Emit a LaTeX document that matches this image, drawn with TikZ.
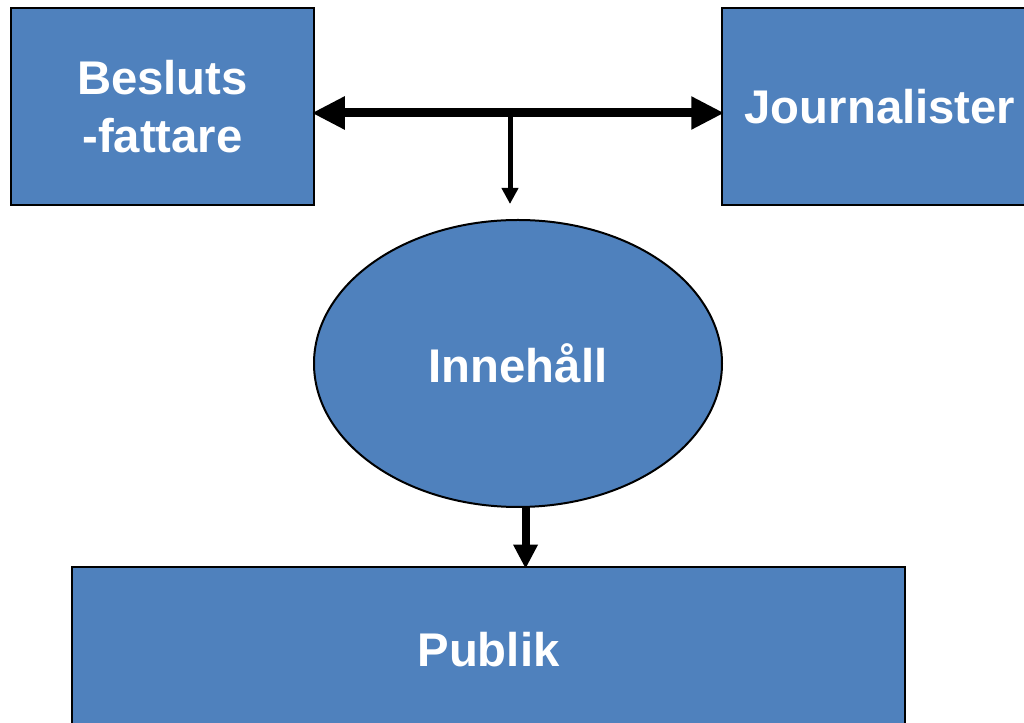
\documentclass[tikz,border=0pt]{standalone}
\usepackage{fontspec}
\setmainfont{Liberation Sans}
\usepackage{tikz}
\usetikzlibrary{shapes.geometric,arrows.meta,positioning}
\definecolor{boxblue}{HTML}{4F81BD}

\begin{document}
\begin{tikzpicture}[node distance = 2cm, on grid,
    box/.style = {draw, line width=0.05cm, fill=boxblue, text=white, inner sep=0pt,
      font=\fontsize{26.9}{32.8}\selectfont\bfseries, align=center},
    blob/.style = {box, ellipse, line width=0.04cm},
    wide/.style = {line width=0.18cm, shorten >= -0.07cm, shorten <= -0.07cm,
      {Triangle[length=0.66cm,width=0.62cm]}-{Triangle[length=0.66cm,width=0.62cm]}},
    tap/.style = {line width=0.1cm, -{Triangle[length=0.32cm,width=0.32cm]}},
    feed/.style = {line width=0.16cm, shorten >= -0.06cm, -{Triangle[length=0.48cm,width=0.46cm]}}]
   \path[use as bounding box, clip] (0,0) rectangle (20.48,14.46);
   \node[box, minimum width=6.06cm, minimum height=3.94cm] (box_b) at (3.25,12.33) {Besluts\\-fattare};
   \node[box, minimum width=6.32cm, minimum height=3.94cm] (box_j) [right = 14.35cm of box_b] {Journalister};
   \node[blob, minimum width=8.16cm, minimum height=5.74cm] (ell_i) [below right = 5.14cm and 7.11cm of box_b] {Innehåll};
   \node[box, minimum width=16.66cm, minimum height=3.32cm] (box_p) [below right = 10.87cm and 6.52cm of box_b] {Publik};
   \coordinate (hub) at (10.2,12.2);
   \coordinate (drop) at (10.2,10.38);
   \path[wide] (hub -| box_b.east) edge (hub -| box_j.west);
   \path[tap] (hub) edge (drop);
   \path[feed] (ell_i.-87) edge (ell_i.-87 |- box_p.north);
\end{tikzpicture}
\end{document}
